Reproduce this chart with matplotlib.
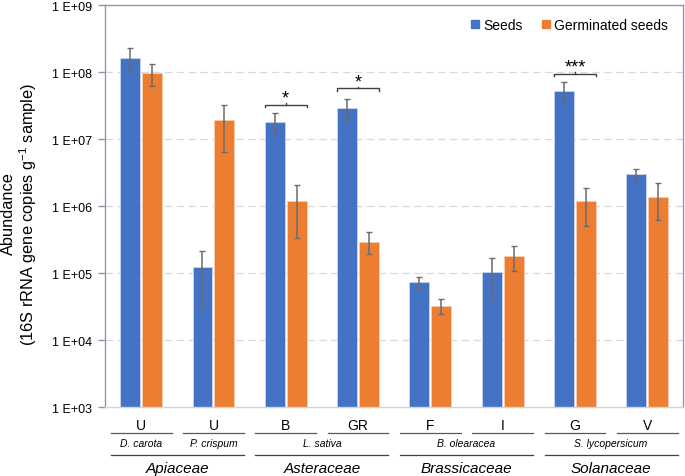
import matplotlib
matplotlib.use("Agg")
import matplotlib.pyplot as plt
import matplotlib.transforms as mtransforms
from matplotlib.lines import Line2D
from matplotlib.ticker import FixedLocator, FuncFormatter, NullLocator
import numpy as np

plt.rcParams["font.family"] = ["Liberation Sans", "DejaVu Sans"]
plt.rcParams["mathtext.fontset"] = "custom"
plt.rcParams["mathtext.rm"] = "Liberation Sans"
plt.rcParams["mathtext.it"] = "Liberation Sans:italic"

# data
cultivars = ["U", "U", "B", "GR", "F", "I", "G", "V"]
species = ["D. carota", "P. crispum", "L. sativa", "B. olearacea", "S. lycopersicum"]
species_span = [(0, 0), (1, 1), (2, 3), (4, 5), (6, 7)]
families = ["Apiaceae", "Asteraceae", "Brassicaceae", "Solanaceae"]
family_span = [(0, 1), (2, 3), (4, 5), (6, 7)]

seeds = [1.62e8, 1.23e5, 1.83e7, 2.96e7, 7.4e4, 1.05e5, 5.26e7, 3.0e6]
seeds_lo = [1.04e8, 3.1e4, 1.15e7, 2.06e7, 6.1e4, 4.07e4, 3.45e7, 2.41e6]
seeds_hi = [2.28e8, 2.17e5, 2.5e7, 3.99e7, 8.7e4, 1.69e5, 7.1e7, 3.64e6]
germ = [9.7e7, 1.96e7, 1.21e6, 2.97e5, 3.28e4, 1.8e5, 1.19e6, 1.39e6]
germ_lo = [6.2e7, 6.5e6, 3.33e5, 1.92e5, 2.5e4, 1.07e5, 5.1e5, 6.25e5]
germ_hi = [1.31e8, 3.25e7, 2.08e6, 4.1e5, 4.2e4, 2.55e5, 1.86e6, 2.2e6]

sig_groups = [2, 3, 6]
sig_marks = ["*", "*", "***"]
sig_levels = [3.3e7, 5.8e7, 9.5e7]

BLUE = "#4472C4"
ORANGE = "#ED7D31"
AXIS = "#8A99AE"

W, H = 685, 477
fig = plt.figure(figsize=(W / 100, H / 100), dpi=100)
ax = fig.add_axes([105 / W, 1 - 408.3 / H, 578.4 / W, 402 / H])


def fy(px):
    return 1 - px / H


x = np.arange(len(cultivars))
width = 0.275
off = 0.152

ax.set_yscale("log")
ax.bar(x - off, seeds, width, color=BLUE, edgecolor="#C9D6EF", linewidth=0.6, label="Seeds", zorder=2)
ax.bar(x + off, germ, width, color=ORANGE, edgecolor="#F8CDB0", linewidth=0.6, label="Germinated seeds", zorder=2)

err_kw = dict(fmt="none", ecolor="#6B6B6B", elinewidth=1.1, capsize=2.5, capthick=1.0, zorder=3)
s = np.array(seeds)
g = np.array(germ)
ax.errorbar(x - off, s, yerr=[s - np.array(seeds_lo), np.array(seeds_hi) - s], **err_kw)
ax.errorbar(x + off, g, yerr=[g - np.array(germ_lo), np.array(germ_hi) - g], **err_kw)

ax.set_xlim(-0.5, len(cultivars) - 0.5)
ax.set_ylim(1e3, 1e9)
ax.yaxis.set_major_locator(FixedLocator([10.0 ** k for k in range(3, 10)]))
ax.yaxis.set_minor_locator(NullLocator())
ax.yaxis.set_major_formatter(FuncFormatter(lambda v, p: "1 E+%02d" % round(np.log10(v))))
ax.tick_params(axis="y", direction="out", length=5, width=1, color=AXIS, labelsize=9, pad=4)
ax.set_xticks(x)
ax.set_xticklabels([])
ax.tick_params(axis="x", length=0)

for k in range(4, 9):
    ax.axhline(10.0 ** k, color="#D9D9D9", lw=0.9, linestyle=(0, (6, 3.5)), zorder=1)

for side in ("left", "top", "right"):
    ax.spines[side].set_color(AXIS)
    ax.spines[side].set_linewidth(1)
ax.spines["bottom"].set_color("#D4D4D4")
ax.spines["bottom"].set_linewidth(1)

# significance brackets
for gi, mark, lvl in zip(sig_groups, sig_marks, sig_levels):
    x0, x1 = gi - off - width / 2, gi + off + width / 2
    down = lvl * 10 ** (-2.5 / 67)
    ax.plot([x0, x0, x1, x1], [down, lvl, lvl, down], color="#404040", lw=1, zorder=4)
    ax.plot([gi, gi], [lvl, lvl * 10 ** (1.5 / 67)], color="#404040", lw=1, zorder=4)
    ax.annotate(mark, (gi, lvl), xytext=(0, -1.5), textcoords="offset points",
                ha="center", va="bottom", fontsize=13)

# legend
handles = [Line2D([], [], marker="s", color=BLUE, linestyle="", markersize=6),
           Line2D([], [], marker="s", color=ORANGE, linestyle="", markersize=6)]
fig.legend(handles, ["Seeds", "Germinated seeds"], loc="center right",
           bbox_to_anchor=(668 / W, fy(26)), ncol=2, frameon=False, fontsize=10,
           handlelength=0.7, handletextpad=0.25, columnspacing=1.3, borderpad=0, borderaxespad=0)

# multi-level category axis
tr = mtransforms.blended_transform_factory(ax.transData, fig.transFigure)
inset = 0.08
for i, lab in enumerate(cultivars):
    ax.text(i, fy(426), lab, transform=tr, ha="center", va="center", fontsize=10)
    ax.add_line(Line2D([i - 0.5 + inset, i + 0.5 - inset], [fy(434), fy(434)], transform=tr,
                       color="#595959", lw=0.9, clip_on=False))
for name, (a, b) in zip(species, species_span):
    ax.text((a + b) / 2, fy(444.5), name, transform=tr, ha="center", va="center",
            fontsize=7.5, style="italic")
for name, (a, b) in zip(families, family_span):
    ax.add_line(Line2D([a - 0.5 + inset, b + 0.5 - inset], [fy(455.5), fy(455.5)], transform=tr,
                       color="#404040", lw=0.9, clip_on=False))
    ax.text((a + b) / 2, fy(469), name, transform=tr, ha="center", va="center",
            fontsize=11, style="italic")

fig.text(20 / W, fy(214), "Abundance\n(16S rRNA gene copies g$^{-1}$ sample)",
         rotation=90, ha="center", va="center", fontsize=11.8, multialignment="center",
         linespacing=1.05)

fig.savefig("out.png", dpi=100)
